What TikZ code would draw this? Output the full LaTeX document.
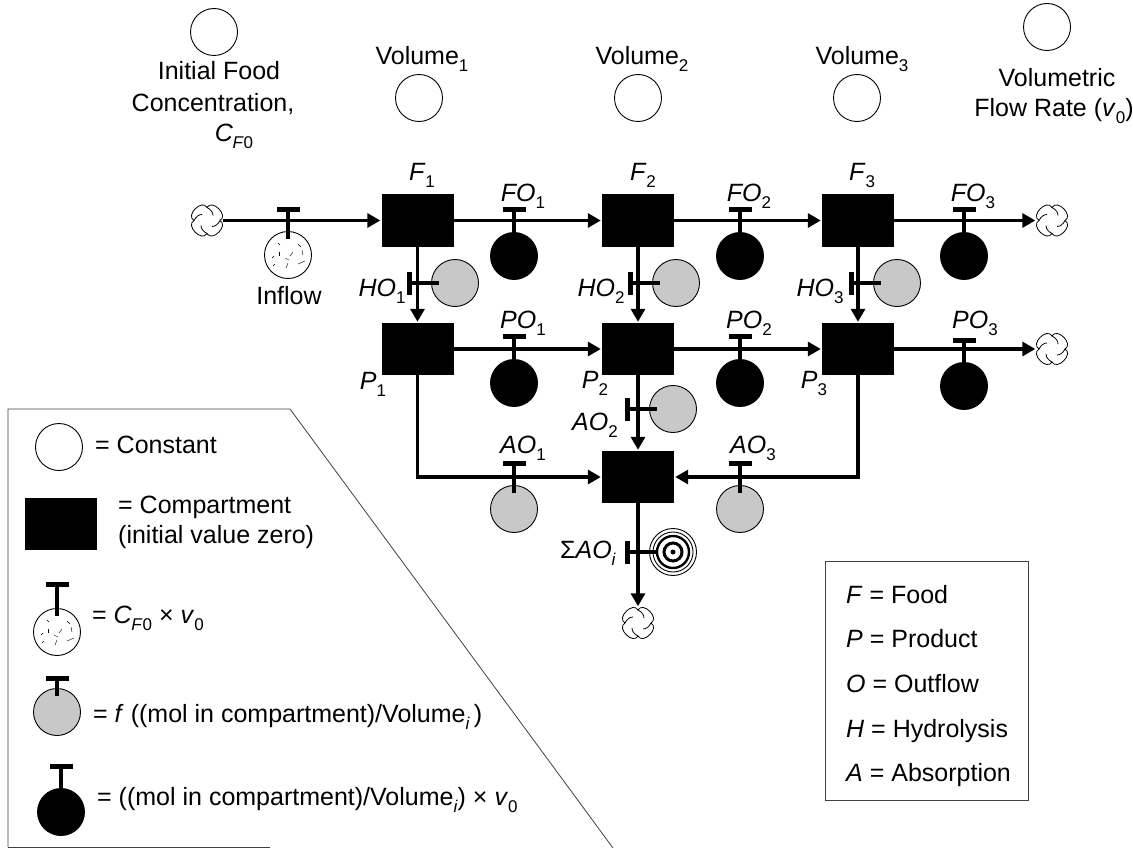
\documentclass[tikz,border=0pt]{standalone}
\usepackage{fontspec}
\setmainfont{Liberation Sans}
\usetikzlibrary{arrows.meta,calc}
\definecolor{stipple}{HTML}{C8C8C8}
\newcommand{\sbs}[1]{\raisebox{-0.28em}{\fontsize{17}{17}\selectfont #1}}
\newcommand{\vnought}{\textit{v}\sbs{0}}
\newcommand{\cfnought}{\textit{C}\hspace{-0.5pt}\raisebox{-0.28em}{\fontsize{17}{17}\selectfont\textit{F}0}}
\newcommand{\voli}{Volume\raisebox{-0.28em}{\fontsize{17}{17}\selectfont\textit{i}}}
\begin{document}
\begin{tikzpicture}[x=1pt, y=-1pt,
  every node/.style={font=\fontsize{25}{30}\selectfont},
  comp/.style={rectangle, fill=black, inner sep=0pt, minimum width=72pt, minimum height=52pt},
  const/.style={circle, draw, line width=0.9pt, fill=white, inner sep=0pt, minimum size=47pt},
  feed/.style={const},
  gauge/.style={const, fill=stipple},
  rate/.style={const, fill=black},
  target/.style={const},
  sinkn/.style={circle, inner sep=0pt, minimum size=31pt},
  hbar/.style={rectangle, fill=black, inner sep=0pt, minimum width=23pt, minimum height=5pt},
  vbar/.style={rectangle, fill=black, inner sep=0pt, minimum width=5pt, minimum height=23pt},
  flow/.style={-{Triangle[length=13pt,width=14pt]}, line width=3.6pt, shorten >=1pt},
  stem/.style={line width=3.6pt, shorten >=16pt},
  speck/.style={line width=0.4pt},
  frame/.style={draw=black!75, line width=0.8pt},
  lbl/.style={anchor=base, inner sep=0pt},
  txt/.style={anchor=base west, inner sep=0pt}
]
  \useasboundingbox (0,0) rectangle (1133,848);

  % legend frames
  \draw[frame] (8,847) -- (8,409) -- (290,409) -- (613,848);
  \draw[frame] (8,847) -- (270,847);
  \node[rectangle, frame, inner sep=0pt, minimum width=203pt, minimum height=239pt] (keybox) at (926.5,680.5) {};

  % compartments
  \foreach \name/\x/\y in {F1/417.5/220.5, F2/638/220.5, F3/858/220.5, P1/417.5/349, P2/638/349, P3/858/349, A/638/477, lgC/60.5/524}{
    \node[comp] (\name) at (\x,\y) {};}

  % constants
  \foreach \name/\x/\y in {cfo/214/32, vone/419/98, vtwo/638/98, vthree/857/98, vflow/1047/27, lgK/59/447}{
    \node[const] (\name) at (\x,\y) {};}

  % sources and sinks
  \foreach \name/\x/\y in {cL/207/220.5, cR/1052/220.5, cS/1052/349, cB/638/623}{
    \node[sinkn] (\name) at (\x,\y) {};
    \foreach \a in {0,90,180,270}{
      \begin{scope}[shift={(\x,\y)}, rotate=\a]
        \draw[line width=0.8pt] (0,-13) .. controls (5,-22) and (22,-5) .. (13,0);
        \draw[line width=0.8pt] (0,-13) .. controls (4,-11) and (6,-8) .. (6,-5);
      \end{scope}}}

  % flows
  \foreach \a/\b in {cL/F1, F1/F2, F2/F3, F3/cR, P1/P2, P2/P3, P3/cS, F1/P1, F2/P2, F3/P3, P2/A, A/cB}{
    \draw[flow] (\a) -- (\b);}
  \draw[flow] (P1.south) |- (A);
  \draw[flow] (P3.south) |- (A);

  % rates with a bar above
  \foreach \name/\x/\bary/\y/\kind in {inflow/288/209/255/feed, FO1/514/209/256/rate, FO2/740/209/256/rate, FO3/964/209/256/rate,
      PO1/514/336/383/rate, PO2/740/336/383/rate, PO3/964/340/386/rate, AO1/514/463/509/gauge, AO3/740/463/509/gauge,
      lgF/57/584/632/feed, lgG/57/678/712/gauge, lgR/61/766/812/rate}{
    \node[\kind] (\name) at (\x,\y) {};
    \node[hbar] (t\name) at (\x,\bary) {};
    \draw[stem] (t\name.center) -- (\name.center);}

  % rates with a bar at the side
  \foreach \name/\barx/\x/\y/\kind in {HO1/409/455/283/gauge, HO2/630/676/283/gauge, HO3/851/897/283/gauge, AO2/627/673/409/gauge, SAO/627/673/552/target}{
    \node[\kind] (\name) at (\x,\y) {};
    \node[vbar] (t\name) at (\barx,\y) {};
    \draw[stem] (t\name.center) -- (\name.center);}

  % rings of the sum
  \draw[line width=0.9pt] (SAO) circle (20pt);
  \draw[line width=2.4pt] (SAO) circle (16pt);
  \draw[line width=3pt] (SAO) circle (9pt);
  \node[circle, fill=black, inner sep=0pt, minimum size=5pt] (SAOdot) at (SAO) {};

  % specks of the feed circles
  \foreach \c in {inflow, lgF}{
    \foreach \dx/\dy/\ex/\ey in {-10/-12/2/2, 10/-11/3/3, -9/-3/0/4, 5/-3/-3/4, 14/-5/1/5, -3/3/4/2, -16/3/2/-2, 10/9/7/-3, -2/13/2/-5, -15/11/2/-2}{
      \draw[speck] ($(\c)+(\dx,\dy)$) -- ++(\ex,\ey);}}

  % labels of the top row
  \node[lbl] (tcfoa) at (219,80) {Initial Food};
  \node[lbl] (tcfob) at (213,112) {Concentration,};
  \node[lbl] (tcfoc) at (234,142) {\cfnought};
  \node[lbl] (tvone) at (422,65) {Volume\sbs{1}};
  \node[lbl] (tvtwo) at (642,65) {Volume\sbs{2}};
  \node[lbl] (tvthree) at (862,65) {Volume\sbs{3}};
  \node[lbl] (tvfa) at (1057,87) {Volumetric};
  \node[lbl] (tvfb) at (1054,117) {Flow Rate (\vnought)};

  % labels of the network
  \foreach \name/\x/\y/\pre/\sub in {lF1/422/181/F/1, lF2/643/181/F/2, lF3/862/181/F/3,
      lFO1/523/201/FO/1, lFO2/749/201/FO/2, lFO3/973/201/FO/3,
      lHO1/382/296/HO/1, lHO2/601/296/HO/2, lHO3/820/296/HO/3,
      lPO1/523/328/PO/1, lPO2/749/328/PO/2, lPO3/975/328/PO/3,
      lP1/373/389/P/1, lP2/595/388/P/2, lP3/814/388/P/3,
      lAO1/523/453/AO/1, lAO2/595/430/AO/2, lAO3/753/453/AO/3}{
    \node[lbl] (\name) at (\x,\y) {\textit{\pre}\sbs{\sub}};}
  \node[lbl] (lInflow) at (289,304) {Inflow};
  \node[lbl] (lSAO) at (588,558) {Σ\textit{AO}\raisebox{-0.28em}{\fontsize{17}{17}\selectfont\textit{i}}};

  % legend texts
  \node[txt] (kK) at (95,453) {= Constant};
  \node[txt] (kCa) at (118,513) {= Compartment};
  \node[txt] (kCb) at (118,543) {(initial value zero)};
  \node[txt] (kF) at (92,623) {= \cfnought\ × \vnought};
  \node[txt] (kG) at (93,722) {= \textit{f} ((mol in compartment)/\voli\,)};
  \node[txt] (kR) at (97,805) {= ((mol in compartment)/\voli) × \vnought};

  \foreach \name/\y/\pre/\word in {kf/603/F/Food, kp/647/P/Product, ko/692/O/Outflow, kh/737/H/Hydrolysis, ka/781/A/Absorption}{
    \node[txt] (\name) at (846,\y) {\textit{\pre} = \word};}
\end{tikzpicture}
\end{document}
